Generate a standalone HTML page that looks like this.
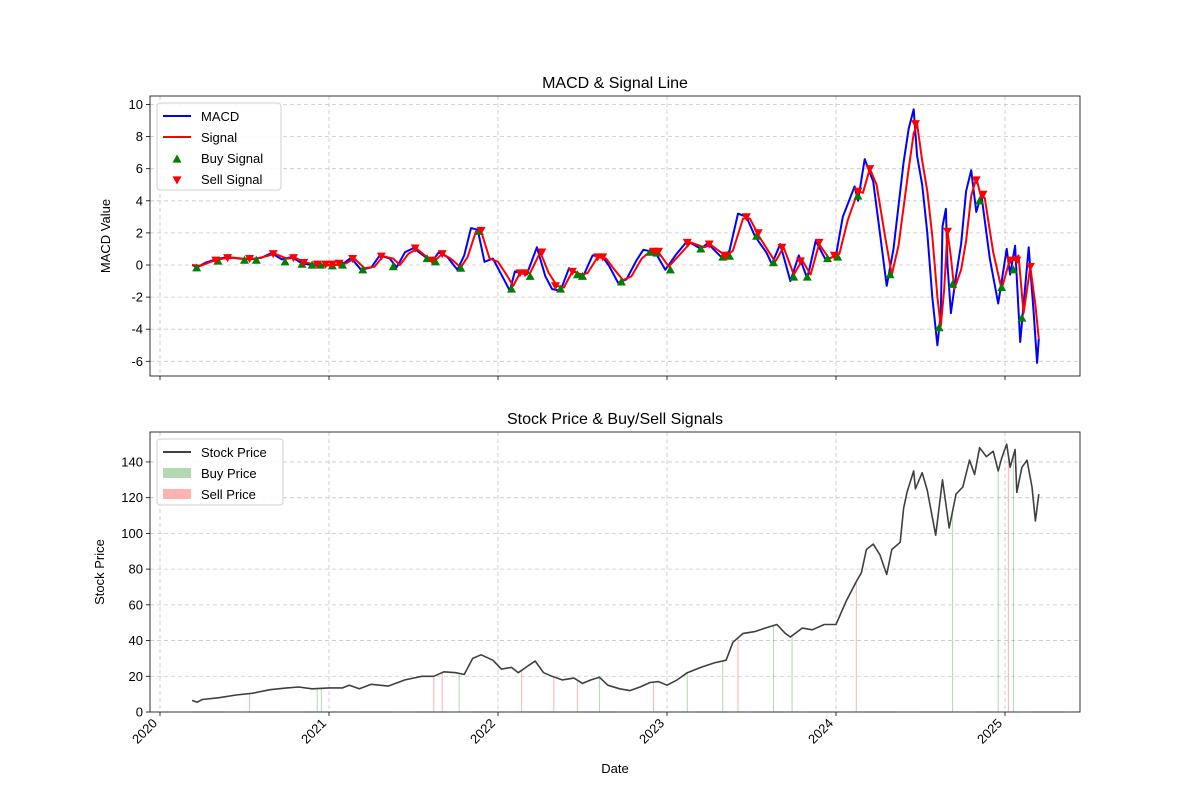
<!DOCTYPE html>
<html><head><meta charset="utf-8"><style>
body{margin:0;background:#fff;font-family:"Liberation Sans","DejaVu Sans",sans-serif}
svg text{font-family:"Liberation Sans","DejaVu Sans",sans-serif;fill:#000}
</style></head><body>
<svg id="c" width="1200" height="800" xmlns="http://www.w3.org/2000/svg"></svg>
<script>
// years offset from 2020
const yearTicks=[2020,2021,2022,2023,2024,2025];
const macdTicks=[-6,-4,-2,0,2,4,6,8,10];
const priceTicks=[0,20,40,60,80,100,120,140];
const macd=[[0.19,0],[0.22,-0.15],[0.27,0.15],[0.33,0.35],[0.4,0.5],[0.47,0.4],[0.53,0.35],[0.6,0.45],[0.66,0.75],[0.72,0.35],[0.78,0.5],[0.84,0.1],[0.9,0.0],[0.96,-0.05],[1.02,0.0],[1.08,0.05],[1.13,0.45],[1.19,-0.3],[1.25,-0.15],[1.3,0.6],[1.36,0.4],[1.4,-0.15],[1.45,0.8],[1.5,1.05],[1.57,0.5],[1.61,0.2],[1.65,0.8],[1.7,0.5],[1.76,-0.3],[1.8,0.6],[1.84,2.3],[1.88,2.2],[1.92,0.2],[1.97,0.4],[2.03,-0.8],[2.07,-1.6],[2.1,-0.4],[2.17,-0.6],[2.23,1.1],[2.28,-0.7],[2.32,-1.5],[2.37,-1.6],[2.42,-0.2],[2.47,-0.5],[2.5,-0.8],[2.56,0.6],[2.62,0.5],[2.66,-0.1],[2.71,-1.1],[2.76,-0.9],[2.82,0.3],[2.86,0.95],[2.93,0.8],[2.99,-0.3],[3.05,0.6],[3.12,1.5],[3.2,1.0],[3.24,1.35],[3.33,0.4],[3.37,0.9],[3.42,3.2],[3.47,3.0],[3.52,1.8],[3.59,0.75],[3.62,0.05],[3.67,1.3],[3.73,-1.0],[3.78,0.6],[3.83,-0.85],[3.88,1.5],[3.94,0.3],[4.0,0.6],[4.04,3.0],[4.11,4.9],[4.13,4.0],[4.17,6.6],[4.22,5.2],[4.26,2.0],[4.3,-1.3],[4.34,1.0],[4.4,6.4],[4.43,8.5],[4.46,9.7],[4.48,6.8],[4.51,5.0],[4.54,2.0],[4.57,-2.0],[4.6,-5.0],[4.62,-3.0],[4.63,2.4],[4.65,3.5],[4.66,0],[4.68,-3.0],[4.71,-0.7],[4.74,1.3],[4.77,4.6],[4.8,5.9],[4.83,3.3],[4.86,4.4],[4.91,0.4],[4.96,-2.4],[5.01,1.0],[5.03,-0.6],[5.06,1.2],[5.09,-4.8],[5.14,1.1],[5.17,-3.0],[5.19,-6.1],[5.2,-4.6]];
const signal=[[0.19,0],[0.24,-0.05],[0.3,0.2],[0.37,0.4],[0.44,0.45],[0.5,0.38],[0.57,0.4],[0.63,0.55],[0.68,0.7],[0.75,0.4],[0.8,0.45],[0.86,0.15],[0.92,0.05],[0.98,0.0],[1.04,0.0],[1.1,0.1],[1.15,0.4],[1.21,-0.2],[1.27,-0.1],[1.32,0.55],[1.38,0.4],[1.42,0.0],[1.47,0.7],[1.52,1.0],[1.59,0.4],[1.63,0.3],[1.67,0.7],[1.72,0.4],[1.78,-0.15],[1.82,0.5],[1.87,2.1],[1.9,2.1],[1.95,0.4],[2.0,0.2],[2.05,-0.6],[2.09,-1.3],[2.13,-0.5],[2.19,-0.5],[2.25,0.8],[2.3,-0.5],[2.35,-1.3],[2.39,-1.4],[2.44,-0.4],[2.5,-0.6],[2.53,-0.5],[2.59,0.5],[2.64,0.4],[2.69,-0.3],[2.74,-0.95],[2.79,-0.7],[2.85,0.4],[2.9,0.85],[2.95,0.8],[3.01,-0.1],[3.08,0.7],[3.14,1.4],[3.22,1.1],[3.26,1.25],[3.35,0.55],[3.39,0.9],[3.45,2.9],[3.49,2.9],[3.55,1.7],[3.61,0.7],[3.64,0.2],[3.69,1.1],[3.75,-0.6],[3.8,0.3],[3.85,-0.6],[3.9,1.3],[3.96,0.4],[4.02,0.7],[4.07,2.8],[4.13,4.6],[4.16,4.5],[4.2,6.0],[4.24,5.0],[4.29,1.8],[4.33,-0.6],[4.37,1.2],[4.43,6.0],[4.46,8.2],[4.48,8.8],[4.51,6.5],[4.54,4.6],[4.57,1.8],[4.6,-2.0],[4.62,-3.8],[4.64,-1.5],[4.66,2.1],[4.68,0.5],[4.7,-1.5],[4.74,-0.3],[4.77,1.5],[4.8,4.3],[4.83,5.4],[4.86,4.2],[4.88,4.2],[4.93,0.8],[4.98,-1.5],[5.03,0.4],[5.06,0.3],[5.08,0.6],[5.11,-3.0],[5.15,-0.1],[5.18,-2.5],[5.2,-4.6]];
const buys=[[0.217,-0.17],[0.343,0.25],[0.5,0.3],[0.57,0.3],[0.74,0.2],[0.84,0.05],[0.9,0],[0.95,0],[1.02,-0.05],[1.08,0],[1.2,-0.3],[1.38,-0.1],[1.58,0.4],[1.63,0.2],[1.78,-0.2],[1.89,2.1],[2.08,-1.5],[2.19,-0.7],[2.37,-1.5],[2.47,-0.6],[2.5,-0.7],[2.73,-1.05],[2.9,0.8],[2.94,0.75],[3.02,-0.3],[3.2,1.0],[3.33,0.5],[3.37,0.55],[3.53,1.8],[3.63,0.15],[3.75,-0.75],[3.83,-0.75],[3.95,0.4],[4.01,0.5],[4.13,4.3],[4.32,-0.6],[4.61,-3.9],[4.69,-1.2],[4.85,4.0],[4.98,-1.4],[5.05,-0.3],[5.1,-3.3]];
const sells=[[0.33,0.3],[0.4,0.45],[0.53,0.4],[0.67,0.7],[0.79,0.45],[0.85,0.15],[0.93,0.05],[0.98,0.05],[1.02,0.05],[1.06,0.1],[1.14,0.4],[1.31,0.55],[1.51,1.05],[1.61,0.3],[1.67,0.7],[1.9,2.15],[2.13,-0.5],[2.16,-0.5],[2.26,0.8],[2.34,-1.3],[2.44,-0.4],[2.59,0.5],[2.62,0.5],[2.92,0.85],[2.95,0.85],[3.12,1.4],[3.25,1.3],[3.34,0.6],[3.35,0.6],[3.47,3.0],[3.54,2.0],[3.68,1.1],[3.79,0.25],[3.9,1.4],[3.99,0.6],[4.13,4.6],[4.2,6.0],[4.47,8.8],[4.66,2.1],[4.83,5.3],[4.87,4.4],[5.03,0.3],[5.07,0.3],[5.15,-0.1]];
const price=[[0.19,6.5],[0.22,5.5],[0.25,7],[0.35,8],[0.45,9.5],[0.55,10.5],[0.65,12.5],[0.75,13.5],[0.82,14],[0.9,13],[1.0,13.5],[1.08,13.5],[1.12,15],[1.18,13],[1.25,15.5],[1.35,14.5],[1.45,18],[1.55,20],[1.62,20],[1.68,22.5],[1.75,22],[1.8,21],[1.85,30],[1.9,32],[1.97,29],[2.02,24],[2.08,25],[2.12,22],[2.18,26],[2.22,28.5],[2.27,22],[2.32,20],[2.38,18],[2.45,19],[2.5,16],[2.55,18],[2.6,19.5],[2.65,15],[2.72,13],[2.78,12],[2.84,14],[2.9,16.5],[2.95,17],[3.0,15],[3.06,18],[3.12,22],[3.2,25],[3.28,27.5],[3.35,29],[3.39,39],[3.45,44],[3.52,45],[3.58,47],[3.65,49],[3.7,44],[3.73,42],[3.8,47],[3.86,46],[3.93,49],[4.0,49],[4.06,62],[4.12,73],[4.15,78],[4.18,91],[4.22,94],[4.26,88],[4.3,77],[4.33,91],[4.38,95],[4.4,114],[4.42,123],[4.46,135],[4.47,125],[4.51,134],[4.54,124],[4.59,99],[4.63,130],[4.67,103],[4.71,122],[4.75,126],[4.79,141],[4.82,133],[4.85,148],[4.89,143],[4.93,146],[4.96,135],[4.98,142],[5.01,150],[5.03,137],[5.06,147],[5.07,123],[5.1,137],[5.13,141],[5.16,126],[5.18,107],[5.2,122]];
const buyPriceT=[0.93,0.955,1.77,2.6,3.12,3.33,3.63,3.74,4.69,4.96,5.05];
const sellPriceT=[0.53,1.62,1.67,2.14,2.33,2.47,2.92,3.42,4.12,5.02];

const NS="http://www.w3.org/2000/svg",svg=document.getElementById('c');
function el(t,a,p){const e=document.createElementNS(NS,t);for(const k in a)e.setAttribute(k,a[k]);(p||svg).appendChild(e);return e;}
const L=150,R=1080;
const X=t=>160+(t>=2000?t-2020:t)*169;
const Y1=v=>265-v*16.05, Y2=v=>712-v*1.786;
function interp(arr,t){for(let i=1;i<arr.length;i++){if(arr[i][0]>=t){const a=arr[i-1],b=arr[i];return a[1]+(b[1]-a[1])*(t-a[0])/(b[0]-a[0]);}}return arr[arr.length-1][1];}
function axes(top,bot,Y,ticks,name,showX){
  const g=el('g',{});
  yearTicks.forEach(y=>{const x=X(y);el('line',{x1:x,x2:x,y1:top,y2:bot,stroke:'#b0b0b0','stroke-width':0.8,'stroke-dasharray':'4,3',opacity:0.7},g);
    el('line',{x1:x,x2:x,y1:bot,y2:bot+4,stroke:'#000','stroke-width':0.8},g);
    if(showX){const tx=el('text',{x:x-2,y:bot+12,'font-size':13,'text-anchor':'end',transform:`rotate(-45 ${x-2} ${bot+12})`},g);tx.textContent=y;}});
  ticks.forEach(v=>{const y=Y(v);el('line',{x1:L,x2:R,y1:y,y2:y,stroke:'#b0b0b0','stroke-width':0.8,'stroke-dasharray':'4,3',opacity:0.7},g);
    el('line',{x1:L-4,x2:L,y1:y,y2:y,stroke:'#000','stroke-width':0.8},g);
    const tx=el('text',{x:L-7,y:y+4.5,'font-size':13,'text-anchor':'end'},g);tx.textContent=v;});
  el('rect',{x:L,y:top,width:R-L,height:bot-top,fill:'none',stroke:'#000','stroke-width':0.8},g);
}
function line(arr,Y,color,w,name){const p=el('path',{d:arr.map((d,i)=>(i?'L':'M')+X(d[0]).toFixed(1)+','+Y(d[1]).toFixed(1)).join(''),fill:'none',stroke:color,'stroke-width':w,'stroke-linejoin':'round'});}
function tri(x,y,up,color){const s=4.5;const d=up?`M${x},${y-s}L${x+s},${y+s*0.8}L${x-s},${y+s*0.8}Z`:`M${x},${y+s}L${x+s},${y-s*0.8}L${x-s},${y-s*0.8}Z`;return el('path',{d,fill:color});}
function txt(x,y,s,size,name,extra){const t=el('text',Object.assign({x,y,'font-size':size,'text-anchor':'middle'},extra||{}));t.textContent=s;return t;}

// top chart
axes(96,376,Y1,macdTicks,'macd',false);
line(macd,Y1,'#0000ff',2,'macd-line');
line(signal,Y1,'#ff0000',2,'signal-line');
buys.forEach(d=>{const m=tri(X(d[0]),Y1(d[1]),true,'#008000');});
sells.forEach(d=>{const m=tri(X(d[0]),Y1(d[1]),false,'#ff0000');});
txt(615,88,'MACD & Signal Line',16,'macd-title');
txt(110,236,'MACD Value',13,'macd-y-axis-title',{transform:'rotate(-90 110 236)'});

// bottom chart
axes(432,712,Y2,priceTicks,'price',true);
buyPriceT.forEach(t=>{const x=X(t);const l=el('line',{x1:x,x2:x,y1:712,y2:Y2(interp(price,t)),stroke:'#008000','stroke-width':1,opacity:0.3});});
sellPriceT.forEach(t=>{const x=X(t);const l=el('line',{x1:x,x2:x,y1:712,y2:Y2(interp(price,t)),stroke:'#ff0000','stroke-width':1,opacity:0.3});});
line(price,Y2,'#404040',1.6,'stock-price-line');
txt(615,424,'Stock Price & Buy/Sell Signals',16,'price-title');
txt(104,572,'Stock Price',13,'price-y-axis-title',{transform:'rotate(-90 104 572)'});
txt(615,773,'Date',13,'x-axis-title');

// legends
function legend(x,y,w,h,items,name){const g=el('g',{});
  el('rect',{x,y,width:w,height:h,rx:3,fill:'#fff','fill-opacity':0.85,stroke:'#d0d0d0'},g);
  items.forEach((it,i)=>{const cy=y+13+i*21;
    if(it.k==='line')el('line',{x1:x+6,x2:x+34,y1:cy,y2:cy,stroke:it.c,'stroke-width':2},g);
    else if(it.k==='rect')el('rect',{x:x+6,y:cy-5,width:28,height:10,fill:it.c,opacity:0.3},g);
    else{const m=tri(x+20,cy+1,it.k==='up',it.c);g.appendChild(m);}
    const t=el('text',{x:x+44,y:cy+5,'font-size':13},g);t.textContent=it.t;});}
legend(157,103,124,87,[{k:'line',c:'#0000ff',t:'MACD'},{k:'line',c:'#ff0000',t:'Signal'},{k:'up',c:'#008000',t:'Buy Signal'},{k:'down',c:'#ff0000',t:'Sell Signal'}],'macd-legend');
legend(157,439,126,66,[{k:'line',c:'#404040',t:'Stock Price'},{k:'rect',c:'#008000',t:'Buy Price'},{k:'rect',c:'#ff0000',t:'Sell Price'}],'price-legend');
</script>
</body></html>
